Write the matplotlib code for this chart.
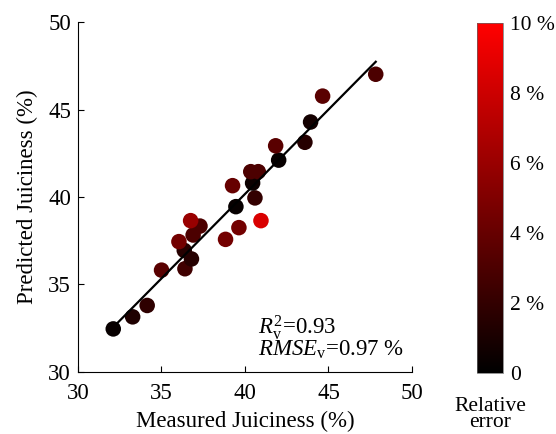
import matplotlib
matplotlib.use("Agg")
import matplotlib.pyplot as plt
import numpy as np
from matplotlib.colors import LinearSegmentedColormap

plt.rcParams['font.family'] = ['Liberation Serif', 'DejaVu Serif']
plt.rcParams['mathtext.fontset'] = 'custom'
plt.rcParams['mathtext.rm'] = 'Liberation Serif'
plt.rcParams['mathtext.it'] = 'Liberation Serif:italic'

measured = [32.12, 33.28, 34.15, 35.01, 36.41, 36.80, 36.37, 36.05, 36.90, 37.31,
            36.75, 38.84, 39.64, 40.96, 39.46, 40.60, 40.46, 39.26, 40.35, 40.80,
            42.02, 41.84, 43.59, 43.93, 44.65, 47.83]
predicted = [32.46, 33.15, 33.80, 35.82, 35.90, 36.46, 36.95, 37.45, 37.83, 38.34,
             38.65, 37.58, 38.25, 38.65, 39.45, 39.95, 40.80, 40.65, 41.45, 41.45,
             42.11, 42.93, 43.13, 44.29, 45.77, 47.02]
rel_error = [0.3, 1.2, 1.8, 3.5, 2.5, 1.5, 1.5, 4.5, 3.0, 3.0,
             6.0, 4.5, 4.5, 8.5, 0.3, 2.0, 0.5, 4.0, 3.0, 3.0,
             0.3, 3.5, 1.5, 0.8, 3.5, 3.0]
fit_slope = 0.966
fit_intercept = 1.53
fit_range = [32.35, 47.83]
xticks = [30, 35, 40, 45, 50]
yticks = [30, 35, 40, 45, 50]
cbar_ticks = [0, 2, 4, 6, 8, 10]
cbar_labels = ['0', '2 %', '4 %', '6 %', '8 %', '10 %']

FS = 16.5
cmap = LinearSegmentedColormap.from_list('blackred', [(0, 0, 0), (1, 0, 0)])

fig = plt.figure(figsize=(5.56, 4.34), dpi=100)
ax = fig.add_axes([0.140, 0.143, 0.601, 0.806])

sc = ax.scatter(measured, predicted, c=rel_error, cmap=cmap, vmin=0, vmax=10,
                s=125, edgecolors='none', zorder=2)
fx = np.array(fit_range)
ax.plot(fx, fit_slope * fx + fit_intercept, color='black', lw=1.6, zorder=3)

ax.set_xlim(30, 50)
ax.set_ylim(30, 50)
ax.set_xticks(xticks)
ax.set_yticks(yticks)
ax.tick_params(direction='in', length=4, labelsize=FS, width=0.8)
ax.tick_params(axis='x', pad=8)
ax.tick_params(axis='y', pad=5)
for s in ['top', 'right']:
    ax.spines[s].set_visible(False)
for s in ['left', 'bottom']:
    ax.spines[s].set_linewidth(0.8)

ax.set_xlabel('Measured Juiciness (%)', fontsize=FS, labelpad=5)
ax.set_ylabel('Predicted Juiciness (%)', fontsize=FS, labelpad=7)

ax.text(40.78, 30.95, r'$R^{2}_{\rm v}$=0.93' + '\n' + r'$RMSE_{\rm v}$=0.97 %',
        fontsize=FS, va='baseline', ha='left', linespacing=0.8)

cax = fig.add_axes([0.858, 0.141, 0.0468, 0.806])
cb = fig.colorbar(sc, cax=cax, ticks=cbar_ticks)
cb.ax.set_yticklabels(cbar_labels)
cb.ax.tick_params(length=0, labelsize=15.5, pad=5)
cb.outline.set_linewidth(0.5)
cb.outline.set_edgecolor('#666666')
fig.text(0.882, 0.004, 'Relative\nerror', ha='center', va='bottom', fontsize=15.5,
         linespacing=0.8)

fig.savefig('out.png', dpi=100)
